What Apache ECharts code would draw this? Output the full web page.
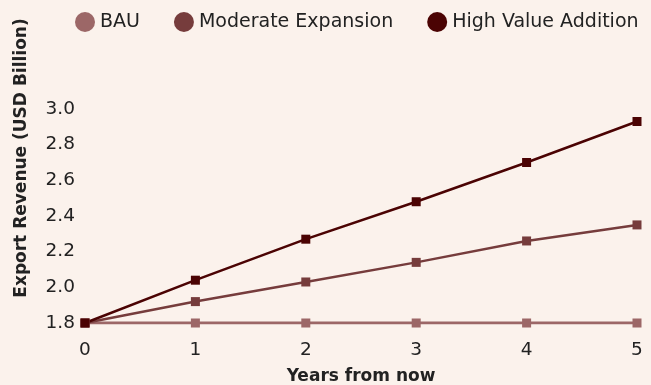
<!DOCTYPE html>
<html>
<head>
<meta charset="utf-8">
<script src="https://cdn.jsdelivr.net/npm/echarts@6/dist/echarts.min.js"></script>
<style>
  html, body { margin: 0; padding: 0; background: #fbf2ec; }
  #chart { width: 651px; height: 385px; }
</style>
</head>
<body>
<div id="chart"></div>
<script>
// Export revenue projections by scenario
const years = ['0', '1', '2', '3', '4', '5'];
const bau = [1.8, 1.8, 1.8, 1.8, 1.8, 1.8];
const moderateExpansion = [1.8, 1.92, 2.03, 2.14, 2.26, 2.35];
const highValueAddition = [1.8, 2.04, 2.27, 2.48, 2.7, 2.93];
const yTicks = { min: 1.8, max: 3.0, step: 0.2 };

const FONT = 'DejaVu Sans';
const TEXT = '#222222';
const colors = { bau: '#9c6767', moderate: '#763c3c', high: '#4b0303' };

function lineSeries(name, data, color, width) {
  return {
    name: name,
    type: 'line',
    data: data,
    symbol: 'rect',
    symbolSize: 9,
    itemStyle: { color: color },
    lineStyle: { color: color, width: width },
    emphasis: { disabled: true },
    animation: false
  };
}

const chart = echarts.init(document.getElementById('chart'), null, { renderer: 'canvas' });
chart.setOption({
  backgroundColor: '#fbf2ec',
  textStyle: { fontFamily: FONT, color: TEXT },
  legend: {
    top: 7,
    left: 70,
    icon: 'circle',
    itemWidth: 20,
    itemHeight: 20,
    itemGap: 34,
    textStyle: { fontFamily: FONT, fontSize: 19, color: TEXT },
    data: ['BAU', 'Moderate Expansion', 'High Value Addition']
  },
  grid: { left: 85, right: 14, top: 109, bottom: 62, outerBoundsMode: 'none', containLabel: false },
  xAxis: {
    type: 'category',
    data: years,
    boundaryGap: false,
    axisLine: { show: false },
    axisTick: { show: false },
    splitLine: { show: false },
    axisLabel: { fontFamily: FONT, fontSize: 18.5, color: TEXT, margin: 18 },
    name: 'Years from now',
    nameLocation: 'middle',
    nameGap: 45,
    nameTextStyle: { fontFamily: FONT, fontSize: 17, fontWeight: 'bold', color: TEXT }
  },
  yAxis: {
    type: 'value',
    min: yTicks.min,
    max: yTicks.max,
    interval: yTicks.step,
    axisLine: { show: false },
    axisTick: { show: false },
    splitLine: { show: false },
    axisLabel: {
      fontFamily: FONT, fontSize: 18.5, color: TEXT, margin: 10,
      formatter: function (v) { return v.toFixed(1); }
    }
  },
  graphic: [{
    type: 'text',
    x: 22,
    y: 158,
    rotation: Math.PI / 2,
    style: {
      text: 'Export Revenue (USD Billion)',
      fontFamily: FONT,
      fontSize: 17,
      fontWeight: 'bold',
      fill: TEXT,
      align: 'center',
      verticalAlign: 'middle'
    }
  }],
  series: [
    lineSeries('BAU', bau, colors.bau, 2.8),
    lineSeries('Moderate Expansion', moderateExpansion, colors.moderate, 2.5),
    lineSeries('High Value Addition', highValueAddition, colors.high, 2.5)
  ]
});
</script>
</body>
</html>
